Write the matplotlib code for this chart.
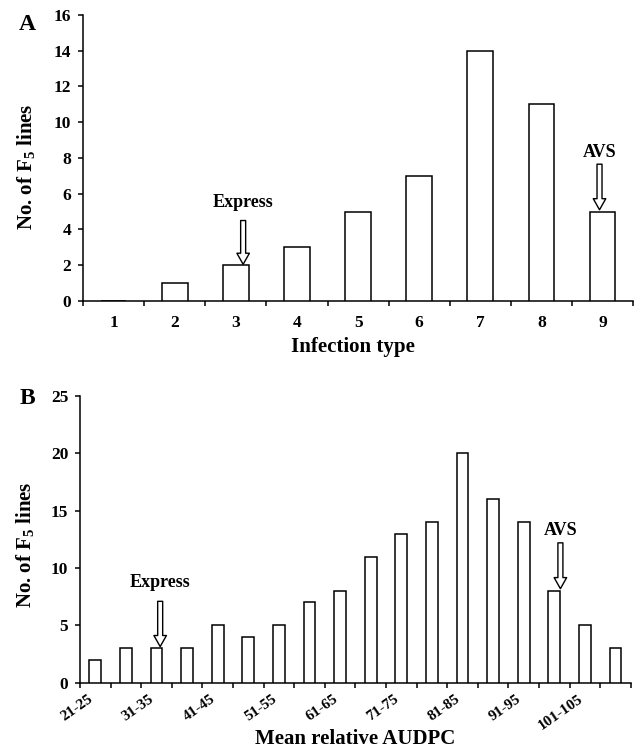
import numpy
import matplotlib
matplotlib.use("Agg")
import matplotlib.pyplot as pyplot
from matplotlib.patches import FancyArrowPatch

pyplot.rcParams["font.family"] = ["Liberation Serif", "DejaVu Serif"]
pyplot.rcParams["font.weight"] = "bold"
pyplot.rcParams["mathtext.fontset"] = "custom"
pyplot.rcParams["mathtext.rm"] = "Liberation Serif:bold"
pyplot.rcParams["mathtext.bf"] = "Liberation Serif:bold"
pyplot.rcParams["mathtext.it"] = "Liberation Serif:bold"
pyplot.rcParams["mathtext.default"] = "rm"

# panel A: infection type
infection_types = ["1", "2", "3", "4", "5", "6", "7", "8", "9"]
infection_counts = [0, 1, 2, 3, 5, 7, 14, 11, 5]

# panel B: mean relative AUDPC classes
audpc_classes = ["21-25", "26-30", "31-35", "36-40", "41-45", "46-50", "51-55",
                 "56-60", "61-65", "66-70", "71-75", "76-80", "81-85", "86-90",
                 "91-95", "96-100", "101-105", "106-110"]
audpc_counts = [2, 3, 3, 3, 5, 4, 5, 7, 8, 11, 13, 14, 20, 16, 14, 8, 5, 3]

# arrow annotations: (label, x, y_text, y_start, y_tip)
notes_a = [("Express", 3.12, 5.5, 4.5, 2.05), ("AVS", 8.95, 8.3, 7.65, 5.1)]
notes_b = [("Express", 2.12, 8.7, 7.1, 3.15), ("AVS", 15.2, 13.3, 12.2, 8.2)]

YLABEL = "No. of F$_5$ lines"


def style_axes(ax):
    for side in ("top", "right"):
        ax.spines[side].set_visible(False)
    for side in ("left", "bottom"):
        ax.spines[side].set_linewidth(1.1)
    ax.tick_params(axis="y", direction="out", length=3.5, width=1.1, pad=5, labelsize=12.5)
    ax.tick_params(axis="x", which="major", length=0, pad=10, labelsize=12.5)
    ax.tick_params(axis="x", which="minor", direction="out", length=3.5, width=1.1)


def add_arrows(ax, notes):
    for label, x, y_text, y_start, y_tip in notes:
        arrow = FancyArrowPatch((x, y_start), (x, y_tip),
                                arrowstyle="simple,head_length=8,head_width=9,tail_width=3.6",
                                mutation_scale=1, shrinkA=0, shrinkB=0,
                                facecolor="white", edgecolor="black", linewidth=1.0, zorder=4)
        ax.add_patch(arrow)
        ax.text(x, y_text, label, ha="center", va="center", fontsize=13, fontweight="bold")


fig = pyplot.figure(figsize=(6.36, 7.51), dpi=100)

# ---- panel A
ax_a = fig.add_axes([0.1305, 0.5992, 0.865, 0.381])
xa = numpy.arange(1, len(infection_types) + 1)
ax_a.bar(xa, infection_counts, width=0.42, color="white", edgecolor="black", linewidth=1.1, zorder=3)
ax_a.set_xlim(0.5, len(infection_types) + 0.5)
ax_a.set_ylim(0, 16)
ax_a.set_yticks(range(0, 17, 2))
ax_a.set_xticks(xa)
ax_a.set_xticklabels(infection_types)
ax_a.set_xticks(numpy.arange(0.5, len(infection_types) + 1), minor=True)
style_axes(ax_a)
ax_a.set_xlabel("Infection type", fontsize=15, fontweight="bold")
ax_a.xaxis.set_label_coords(0.49, -0.125)
ax_a.set_ylabel(YLABEL, fontsize=15, fontweight="bold")
ax_a.yaxis.set_label_coords(-0.083, 0.47)
add_arrows(ax_a, notes_a)
fig.text(27 / 636, 1 - 25 / 751, "A", fontsize=17, fontweight="bold", ha="center", va="center")

# ---- panel B
ax_b = fig.add_axes([0.1258, 0.0909, 0.866, 0.3817])
xb = numpy.arange(len(audpc_classes))
ax_b.bar(xb, audpc_counts, width=0.39, color="white", edgecolor="black", linewidth=1.1, zorder=3)
ax_b.set_xlim(-0.5, len(audpc_classes) - 0.5)
ax_b.set_ylim(0, 25)
ax_b.set_yticks(range(0, 26, 5))
ax_b.set_xticks(xb[::2])
ax_b.set_xticklabels(audpc_classes[::2], rotation=35, ha="right")
ax_b.set_xticks(numpy.arange(-0.5, len(audpc_classes)), minor=True)
style_axes(ax_b)
ax_b.tick_params(axis="x", which="major", labelsize=11, pad=7)
ax_b.set_xlabel("Mean relative AUDPC", fontsize=15, fontweight="bold")
ax_b.xaxis.set_label_coords(0.5, -0.163)
ax_b.set_ylabel(YLABEL, fontsize=15, fontweight="bold")
ax_b.yaxis.set_label_coords(-0.08, 0.48)
add_arrows(ax_b, notes_b)
fig.text(27 / 636, 1 - 398 / 751, "B", fontsize=17, fontweight="bold", ha="center", va="center")

fig.savefig("out.png", dpi=100)
